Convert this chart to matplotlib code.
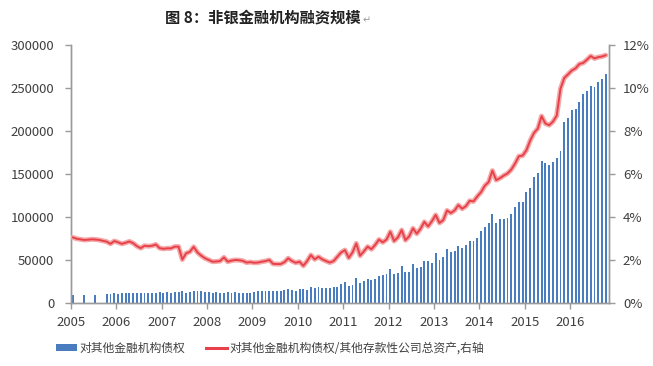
import numpy as np
import matplotlib
matplotlib.use('Agg')
import matplotlib.pyplot as plt
from matplotlib.patches import Patch
from matplotlib.lines import Line2D
from matplotlib.ticker import FuncFormatter

plt.rcParams['font.family'] = ['Noto Sans CJK SC', 'DejaVu Sans']

nan = np.nan

# 月度数据 2005-01 ~ 2016-10
years = ['2005', '2006', '2007', '2008', '2009', '2010',
         '2011', '2012', '2013', '2014', '2015', '2016']

# 对其他金融机构债权 (亿元)
claims = [
    9500, nan, nan, 9000, nan, nan, 9200, nan, nan, 10500, 11000, 11200,
    11000, 11800, 11500, 11600, 11300, 11800, 11200, 11500, 12000, 11600, 12000, 12300,
    12000, 12500, 12200, 12600, 13000, 13500, 11500, 12800, 13500, 14200, 13500, 13000,
    12500, 12000, 12300, 12000, 12200, 12500, 12000, 12400, 12000, 12000, 12000, 12000,
    12400, 13600, 14000, 14300, 14300, 13600, 14300, 14300, 15100, 16300, 15500, 14300,
    16700, 15900, 15100, 19000, 17800, 19000, 17800, 17800, 17800, 19000, 19000, 21700,
    24800, 19800, 20900, 29400, 22900, 25600, 27500, 26700, 27900, 31400, 32600, 33700,
    39500, 33300, 35300, 43400, 36100, 36100, 45000, 40700, 41500, 49200, 48800, 46100,
    58500, 50000, 53900, 62400, 59700, 60900, 66300, 63600, 67100, 72100, 71700, 75200,
    84100, 88700, 92700, 103500, 93500, 97300, 98000, 99200, 103500, 111300, 117800, 117800,
    129400, 133300, 146900, 151500, 165100, 162400, 159700, 163200, 168300, 176000, 209700, 214800,
    224400, 225300, 233000, 242700, 245800, 251600, 250400, 256200, 260100, 265900,
]

# 对其他金融机构债权/其他存款性公司总资产 (%)
ratio = [
    3.05, 2.99, 2.96, 2.93, 2.94, 2.96, 2.95, 2.93, 2.89, 2.85, 2.75, 2.88,
    2.82, 2.75, 2.80, 2.86, 2.78, 2.64, 2.55, 2.66, 2.64, 2.66, 2.72, 2.55,
    2.52, 2.54, 2.54, 2.62, 2.62, 2.02, 2.31, 2.38, 2.61, 2.35, 2.20, 2.08,
    2.00, 1.92, 1.93, 1.95, 2.12, 1.92, 1.97, 2.00, 1.99, 1.96, 1.88, 1.90,
    1.87, 1.88, 1.92, 1.95, 2.00, 1.82, 1.81, 1.81, 1.90, 2.08, 1.95, 1.87,
    1.92, 1.73, 1.95, 2.23, 2.03, 2.15, 2.03, 1.95, 1.88, 1.95, 2.15, 2.35,
    2.46, 2.10, 2.35, 2.77, 2.20, 2.40, 2.62, 2.50, 2.70, 2.95, 2.82, 2.95,
    3.31, 2.88, 3.05, 3.39, 2.92, 3.10, 3.47, 3.22, 3.45, 3.77, 3.56, 3.80,
    4.09, 3.72, 3.85, 4.30, 4.18, 4.30, 4.55, 4.38, 4.50, 4.75, 4.72, 4.95,
    5.15, 5.45, 5.62, 6.15, 5.71, 5.80, 5.92, 6.02, 6.20, 6.48, 6.82, 6.85,
    7.10, 7.55, 7.90, 8.10, 8.68, 8.34, 8.26, 8.42, 8.70, 9.95, 10.45, 10.62,
    10.80, 10.90, 11.10, 11.15, 11.30, 11.47, 11.36, 11.42, 11.45, 11.51,
]

bar_label = '对其他金融机构债权'
line_label = '对其他金融机构债权/其他存款性公司总资产,右轴'
title = '图 8：非银金融机构融资规模'

n = len(claims)
x = np.arange(n) + 0.45
ratio = np.array(ratio) / 100

fig = plt.figure(figsize=(6.53, 3.66), dpi=100)
ax = fig.add_axes([0.1087, 0.172, 0.824, 0.706])
ax2 = ax.twinx()

axis_color = '#9a9a9a'
text_color = '#404040'

ax.bar(x, claims, width=0.5, color='#4a7dbf', zorder=2)

# 红线带淡色外晕
ax2.plot(x, ratio, color='#f4aaaa', lw=3.6, solid_capstyle='round', zorder=3)
ax2.plot(x, ratio, color='#e8414a', lw=1.4, solid_capstyle='round', zorder=4)

ax.set_xlim(0, 142.3)
ax.set_ylim(0, 300000)
ax2.set_ylim(0, 0.12)
ax.set_yticks(np.arange(0, 300001, 50000))
ax2.set_yticks(np.arange(0, 0.1201, 0.02))
ax2.yaxis.set_major_formatter(FuncFormatter(lambda v, p: '%d%%' % round(v * 100)))

ax.set_xticks(np.arange(0, 12 * len(years), 12))
ax.set_xticklabels(years)

for a in (ax, ax2):
    a.spines['top'].set_visible(False)
    for s in ('left', 'right', 'bottom'):
        a.spines[s].set_color(axis_color)
        a.spines[s].set_linewidth(1.0)
    a.tick_params(colors=axis_color, labelcolor=text_color, labelsize=9.5,
                  direction='out', length=4, width=1.0)
ax.tick_params(axis='x', pad=5)
ax.tick_params(axis='y', pad=8)
ax2.tick_params(axis='y', pad=6)

# 标题 (后面跟一个浅色的回车符)
t = fig.text(263 / 653, 0.951, title, ha='center', va='center', fontsize=11,
             fontweight='bold', color='#222222')
fig.canvas.draw()
bb = t.get_window_extent().transformed(fig.transFigure.inverted())
fig.text(bb.x1 + 0.002, 0.945, '↵', ha='left', va='center', fontsize=7,
         color='#9a9a9a', family='DejaVu Sans')

handles = [Patch(facecolor='#4a7dbf', edgecolor='none'),
           Line2D([], [], color='#e8414a', lw=2.2)]
fig.legend(handles, [bar_label, line_label], loc='center', ncol=2,
           bbox_to_anchor=(270 / 653, 1 - 348 / 366), frameon=False,
           fontsize=8.5, handlelength=1.8, handleheight=0.5,
           handletextpad=0.2, columnspacing=1.8, labelcolor=text_color)

fig.savefig('out.png', dpi=100)
